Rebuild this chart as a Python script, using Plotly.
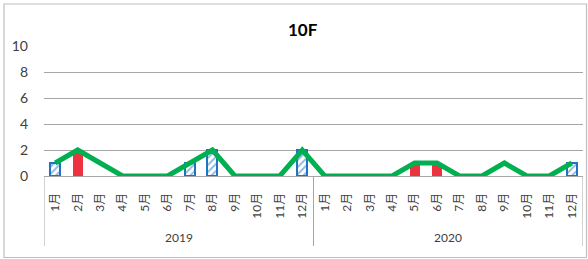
import plotly.graph_objects as go

years = ["2019", "2020"]
months = ["1月", "2月", "3月", "4月", "5月", "6月", "7月", "8月", "9月", "10月", "11月", "12月"]
blue_vals = [1, 0, 0, 0, 0, 0, 1, 2, 0, 0, 0, 2,
             0, 0, 0, 0, 0, 0, 0, 0, 0, 0, 0, 1]
red_vals = [0, 2, 0, 0, 0, 0, 0, 0, 0, 0, 0, 0,
            0, 0, 0, 0, 1, 1, 0, 0, 0, 0, 0, 0]
line_vals = [1, 2, 1, 0, 0, 0, 1, 2, 0, 0, 0, 2,
             0, 0, 0, 0, 1, 1, 0, 0, 1, 0, 0, 1]
title_text = "10F"

n = len(years) * len(months)
xs = list(range(n))
ticktext = months * len(years)

FONT = "Lato, Noto Sans CJK JP, sans-serif"
BLUE = "#1F72C4"
RED = "#EE3340"
GREEN = "#00B050"
GRID = "#A6A6A6"

fig = go.Figure()
fig.add_trace(go.Bar(
    x=xs, y=[v if v else None for v in blue_vals], width=0.45,
    marker=dict(color="white", line=dict(color=BLUE, width=2),
                pattern=dict(shape="/", fgcolor=BLUE, bgcolor="white", size=5, solidity=0.4)),
    showlegend=False,
))
fig.add_trace(go.Bar(
    x=xs, y=[v if v else None for v in red_vals], width=0.45,
    marker=dict(color=RED, line=dict(width=0)),
    showlegend=False,
))
fig.add_trace(go.Scatter(
    x=xs, y=line_vals, mode="lines",
    line=dict(color=GREEN, width=5),
    showlegend=False,
))

L, R, T, B = 44, 5, 46, 83
W, H = 588, 259
pw = W - L - R
ph = H - T - B

def px_x(p):
    return (p - L) / pw

def px_y(p):
    return (H - B - p) / ph

shapes = []
# outer chart border
shapes.append(dict(type="rect", xref="paper", yref="paper",
                   x0=px_x(4), x1=px_x(586.5), y0=px_y(257.5), y1=px_y(4),
                   line=dict(color="#BFBFBF", width=1.2)))
# group dividers
for k in range(len(years) + 1):
    xv = k * len(months) - 0.5
    shapes.append(dict(type="line", xref="x", yref="paper",
                       x0=xv, x1=xv, y0=0, y1=px_y(246),
                       line=dict(color=GRID, width=1)))

annotations = [dict(text="<b>" + title_text + "</b>", xref="paper", yref="paper",
                    x=px_x(303), y=px_y(29), xanchor="center", yanchor="middle", showarrow=False,
                    font=dict(family=FONT, size=17, color="#000000"))]
for i, yr in enumerate(years):
    annotations.append(dict(text=yr, xref="x", yref="paper",
                            x=i * len(months) + (len(months) - 1) / 2, y=px_y(237),
                            xanchor="center", yanchor="middle",
                            showarrow=False, font=dict(family=FONT, size=12, color="#404040")))

fig.update_layout(
    width=W, height=H,
    margin=dict(l=L, r=R, t=T, b=B),
    paper_bgcolor="white", plot_bgcolor="white",
    barmode="overlay", bargap=0,
    shapes=shapes, annotations=annotations,
    font=dict(family=FONT, color="#404040"),
)
fig.update_xaxes(range=[-0.5, n - 0.5], tickmode="array", tickvals=xs, ticktext=ticktext,
                 tickangle=-90, tickfont=dict(size=12, family=FONT, color="#404040"),
                 showgrid=False, zeroline=False, showline=True, linecolor=GRID, linewidth=1,
                 ticks="", ticklabelstandoff=11)
fig.update_yaxes(range=[0, 10], tickvals=[0, 2, 4, 6, 8, 10], showgrid=True, gridcolor=GRID,
                 gridwidth=1, zeroline=False, showline=False, ticks="",
                 tickfont=dict(size=14, family=FONT, color="#404040"), ticklabelstandoff=15)

fig.write_html("out.html", config={"displayModeBar": False},
               post_script="document.body.style.margin='0';document.body.style.overflow='hidden';")
